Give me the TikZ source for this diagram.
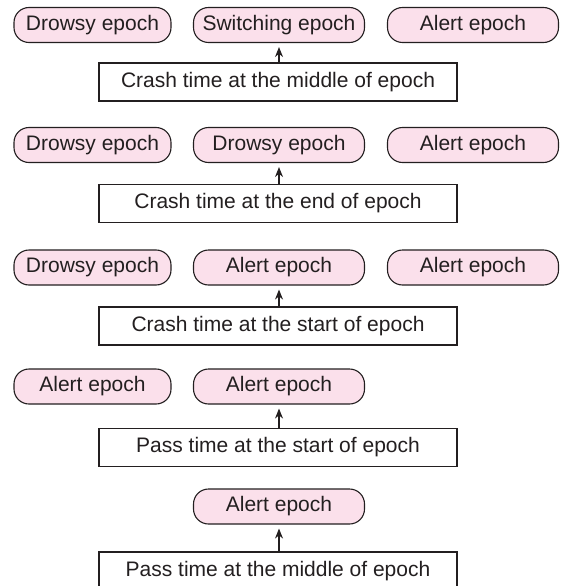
\documentclass[tikz,border=0pt]{standalone}
\usepackage{fontspec}
\setmainfont{Liberation Sans}
\usetikzlibrary{arrows.meta}
\definecolor{pillfill}{RGB}{251,224,235}
\definecolor{inkgray}{RGB}{35,31,32}
\tikzset{
  x=1pt, y=-1pt,
  every node/.style={font=\fontsize{21}{25}\selectfont, text=inkgray, inner sep=0pt},
  pill/.style={draw=inkgray, line width=1.1pt, fill=pillfill, rounded corners=15pt,
               minimum height=35pt, minimum width=171pt},
  pillnarrow/.style={pill, minimum width=157pt},
  timebox/.style={draw=inkgray, line width=1.1pt, fill=white,
                  minimum width=358pt, minimum height=38pt},
  uparrow/.style={draw=inkgray, line width=1.1pt, -{Stealth[length=10pt,width=8pt]}, shorten >=4pt}
}
\begin{document}
\begin{tikzpicture}
\useasboundingbox (0,0) rectangle (560,586);

% Row 1
\node[pillnarrow] (a1) at (92.5,25) {Drowsy epoch};
\node[pill] (a2) at (279,25) {Switching epoch};
\node[pill] (a3) at (473,25) {Alert epoch};
\node[timebox] (ta) at (278,82) {Crash time at the middle of epoch};
\draw[uparrow] (ta.north -| a2.south) -- (a2.south);

% Row 2
\node[pillnarrow] (b1) at (92.5,145) {Drowsy epoch};
\node[pill] (b2) at (279,145) {Drowsy epoch};
\node[pill] (b3) at (473,145) {Alert epoch};
\node[timebox] (tb) at (278,203.5) {Crash time at the end of epoch};
\draw[uparrow] (tb.north -| b2.south) -- (b2.south);

% Row 3
\node[pillnarrow] (c1) at (92.5,267.5) {Drowsy epoch};
\node[pill] (c2) at (279,267.5) {Alert epoch};
\node[pill] (c3) at (473,267.5) {Alert epoch};
\node[timebox] (tc) at (278,326) {Crash time at the start of epoch};
\draw[uparrow] (tc.north -| c2.south) -- (c2.south);

% Row 4
\node[pillnarrow] (d1) at (92.5,386.5) {Alert epoch};
\node[pill] (d2) at (279,386.5) {Alert epoch};
\node[timebox] (td) at (278,447.5) {Pass time at the start of epoch};
\draw[uparrow] (td.north -| d2.south) -- (d2.south);

% Row 5
\node[pill] (e2) at (279,506.5) {Alert epoch};
\node[timebox] (te) at (278,571) {Pass time at the middle of epoch};
\draw[uparrow] (te.north -| e2.south) -- (e2.south);
\end{tikzpicture}
\end{document}
